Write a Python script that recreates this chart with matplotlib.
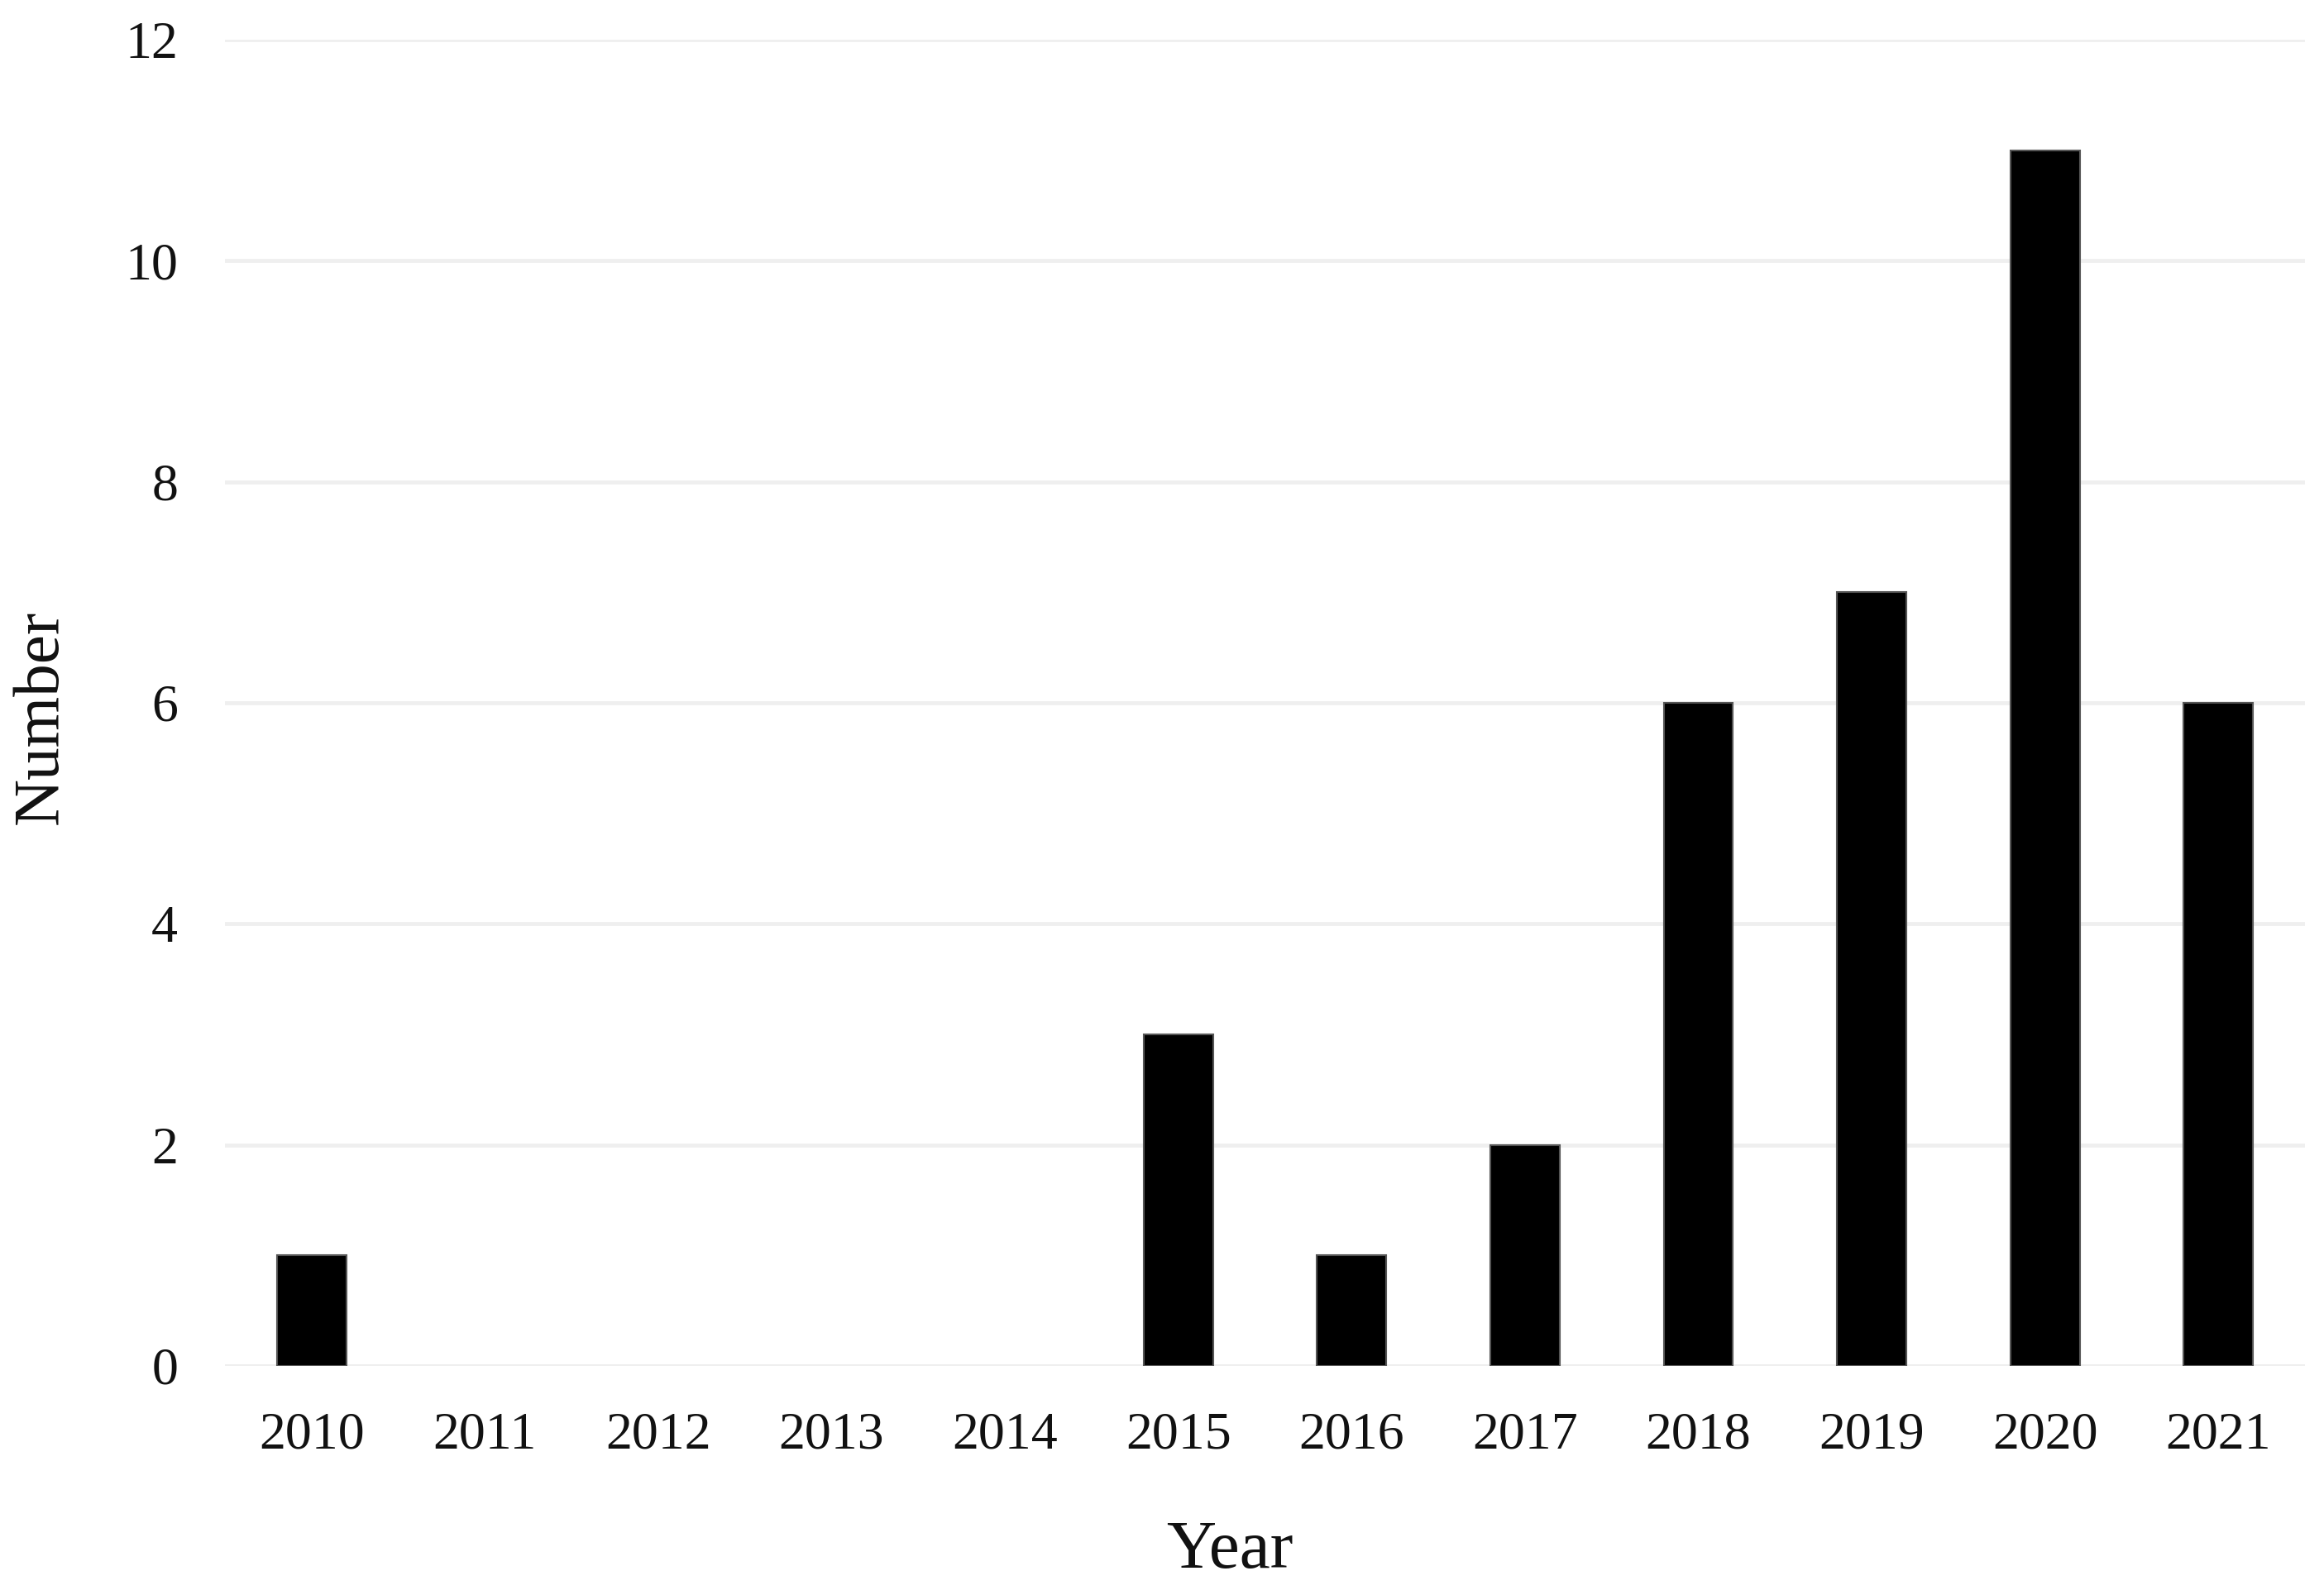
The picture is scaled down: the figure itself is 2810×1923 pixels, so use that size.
import matplotlib
matplotlib.use("Agg")
import matplotlib.pyplot as plt

years = ["2010", "2011", "2012", "2013", "2014", "2015",
         "2016", "2017", "2018", "2019", "2020", "2021"]
counts = [1, 0, 0, 0, 0, 3, 1, 2, 6, 7, 11, 6]
y_ticks = [0, 2, 4, 6, 8, 10, 12]

plt.rcParams["font.family"] = ["Liberation Serif", "DejaVu Serif"]

fig = plt.figure(figsize=(28.10, 19.23), dpi=100)
ax = fig.add_axes([0.0968, 0.141, 0.895, 0.834])

# no outline on the empty years, otherwise a stub shows on the baseline
edge_w = [1.5 if c > 0 else 0 for c in counts]
ax.bar(range(len(years)), counts, width=0.4, color="black",
       edgecolor="#555555", linewidth=edge_w, zorder=3)

ax.set_xlim(-0.5, len(years) - 0.5)
ax.set_ylim(0, 12)
ax.set_yticks(y_ticks)
ax.set_xticks(range(len(years)))
ax.set_xticklabels(years)

ax.grid(axis="y", color="#efefef", linewidth=3.5, zorder=0)
ax.axhline(0, color="#e2e2e2", linewidth=3.5, zorder=1)
for s in ax.spines.values():
    s.set_visible(False)
ax.tick_params(axis="both", length=0, labelsize=46, colors="#111111")
ax.tick_params(axis="x", pad=40)
ax.tick_params(axis="y", pad=41)

ax.set_xlabel("Year", fontsize=60, color="#111111", va="center")
ax.set_ylabel("Number", fontsize=57, color="#111111", va="center")
ax.xaxis.set_label_coords(0.483, -0.140)
ax.yaxis.set_label_coords(-0.0883, 0.489)

fig.savefig("out.png", dpi=100, facecolor="white")
